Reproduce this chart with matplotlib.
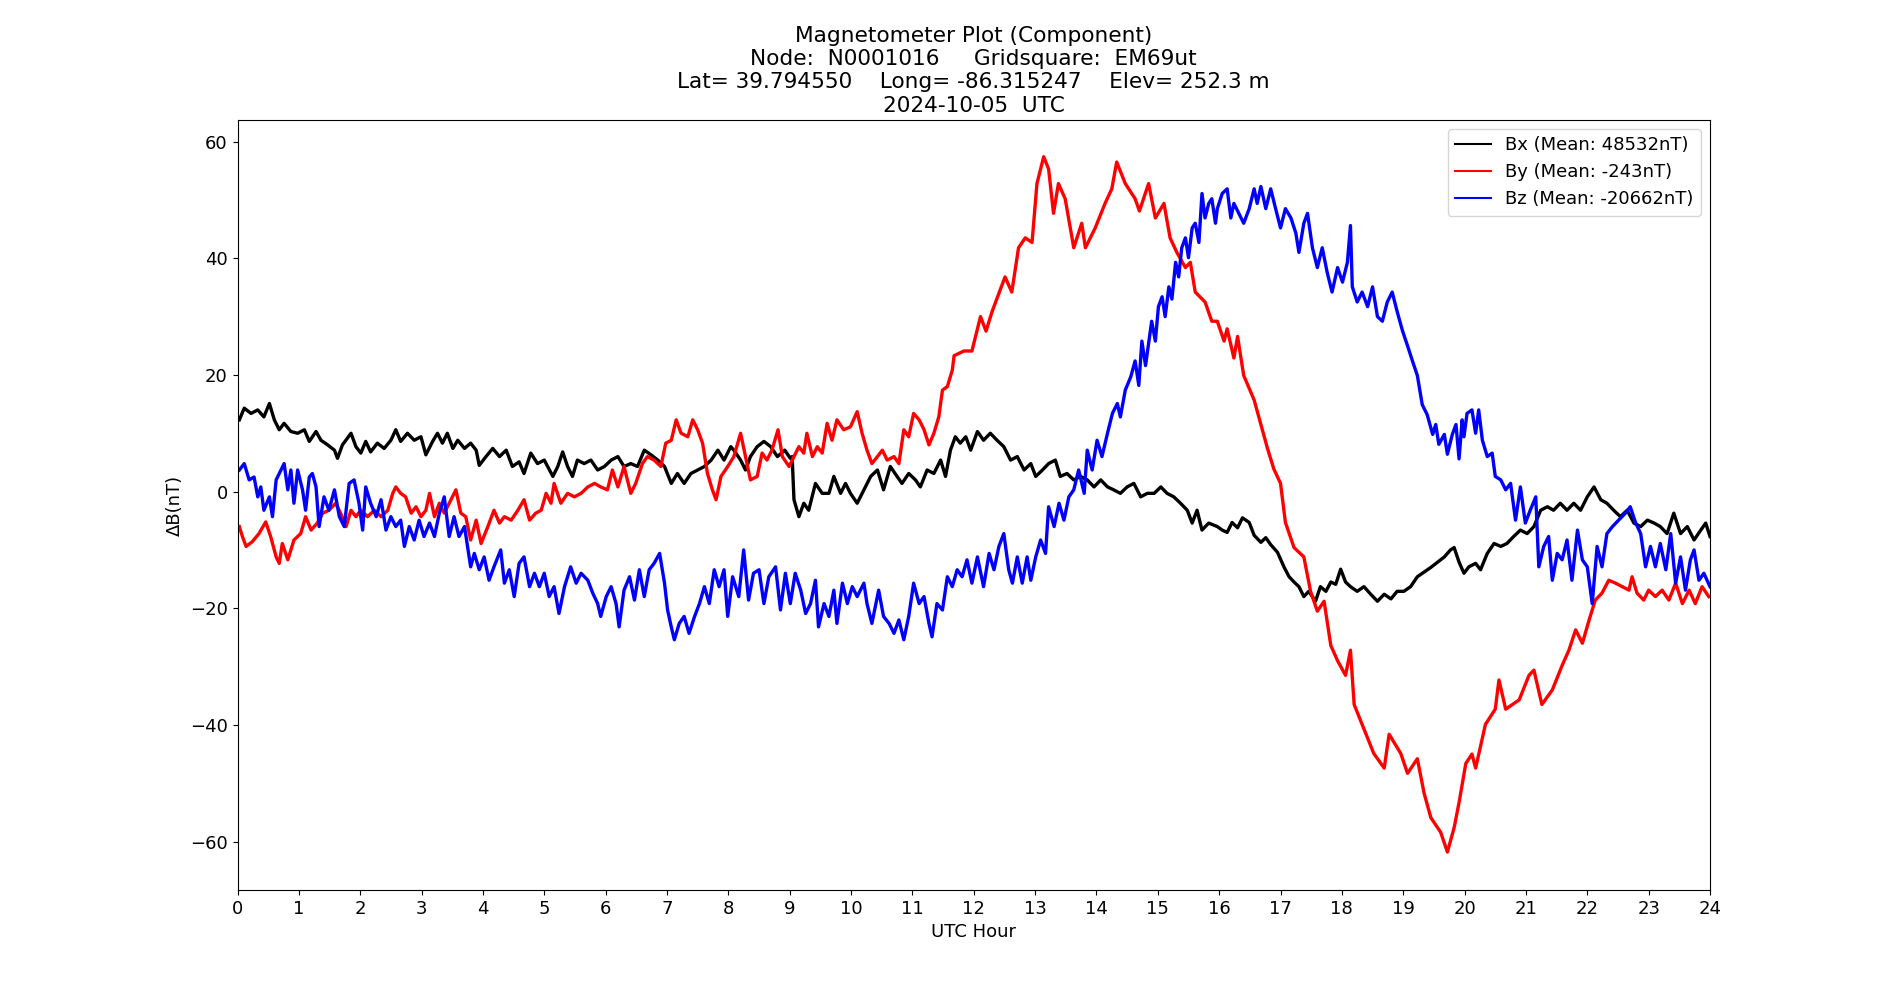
import matplotlib
matplotlib.use("Agg")
import matplotlib.pyplot as plt

plt.rcParams['font.size'] = 13

title_lines = ["Magnetometer Plot (Component)",
               "Node:  N0001016     Gridsquare:  EM69ut",
               "Lat= 39.794550    Long= -86.315247    Elev= 252.3 m",
               "2024-10-05  UTC"]
labels = ["Bx (Mean: 48532nT)", "By (Mean: -243nT)", "Bz (Mean: -20662nT)"]
colors = ["black", "red", "blue"]
xticks = list(range(0, 25))
yticks = [-60, -40, -20, 0, 20, 40, 60]

bx_hours = [0.03, 0.11, 0.22, 0.33, 0.43, 0.52, 0.6, 0.68, 0.76, 0.87, 0.98, 1.09, 1.17, 1.28, 1.36, 1.47, 1.58, 1.63, 1.71, 1.85,
            1.93, 2.01, 2.09, 2.17, 2.28, 2.39, 2.5, 2.58, 2.66, 2.77, 2.88, 2.99, 3.07, 3.18, 3.26, 3.34, 3.42, 3.51, 3.59, 3.7,
            3.8, 3.89, 3.94, 4.05, 4.16, 4.27, 4.38, 4.48, 4.59, 4.67, 4.78, 4.89, 5.0, 5.14, 5.22, 5.3, 5.38, 5.46, 5.54, 5.65,
            5.76, 5.87, 5.98, 6.09, 6.2, 6.3, 6.41, 6.52, 6.63, 6.74, 6.85, 6.96, 7.07, 7.17, 7.28, 7.39, 7.5, 7.61, 7.72, 7.83,
            7.93, 8.04, 8.09, 8.2, 8.28, 8.36, 8.47, 8.58, 8.69, 8.8, 8.92, 9.01, 9.04, 9.07, 9.12, 9.15, 9.23, 9.31, 9.42, 9.53,
            9.64, 9.72, 9.83, 9.91, 9.99, 10.1, 10.21, 10.32, 10.43, 10.53, 10.64, 10.75, 10.83, 10.94, 11.05, 11.13, 11.24, 11.35, 11.46, 11.54,
            11.62, 11.7, 11.78, 11.87, 11.95, 12.06, 12.16, 12.27, 12.38, 12.49, 12.6, 12.71, 12.82, 12.93, 13.01, 13.12, 13.22, 13.33, 13.41, 13.52,
            13.63, 13.74, 13.85, 13.96, 14.07, 14.18, 14.28, 14.39, 14.5, 14.61, 14.72, 14.83, 14.94, 15.05, 15.15, 15.26, 15.37, 15.48, 15.56, 15.64,
            15.72, 15.83, 15.97, 16.05,
            16.13, 16.21, 16.3, 16.38, 16.49, 16.57, 16.68, 16.76, 16.84, 16.95, 17.06, 17.14, 17.22, 17.3, 17.38, 17.46, 17.57, 17.65, 17.74, 17.82,
            17.9, 17.98, 18.06, 18.14, 18.25, 18.36, 18.47, 18.58, 18.69, 18.8, 18.9, 19.01, 19.12, 19.23, 19.34, 19.45, 19.56, 19.67, 19.77, 19.83,
            19.91,
            19.99, 20.07, 20.18, 20.26, 20.37, 20.48, 20.59, 20.69, 20.8, 20.91, 21.02, 21.13,
            21.24, 21.35, 21.45, 21.56, 21.67, 21.78, 21.89, 22.0, 22.11, 22.22, 22.32, 22.43, 22.54, 22.65, 22.76, 22.87, 22.98, 23.09, 23.19, 23.3,
            23.41, 23.52, 23.63, 23.74, 23.85, 23.93, 24.0]
bx_vals = [12.3, 14.3, 13.4, 14.0, 12.8, 15.1, 12.3, 10.6, 11.7, 10.3, 10.0, 10.6, 8.6, 10.3, 8.8, 8.0, 7.1, 5.7, 8.0, 10.0,
           7.7, 6.6, 8.6, 6.8, 8.3, 7.4, 8.8, 10.6, 8.6, 10.0, 8.8, 9.4, 6.3, 8.6, 10.0, 8.3, 10.0, 7.4, 8.8, 7.4,
           8.3, 7.1, 4.5, 6.0, 7.4, 6.0, 7.1, 4.3, 5.1, 3.1, 6.6, 4.8, 5.4, 2.6, 4.3, 6.8, 4.3, 2.6, 5.4, 4.8,
           5.4, 3.7, 4.3, 5.4, 6.0, 4.3, 4.8, 4.3, 7.1, 6.3, 5.4, 4.3, 1.4, 3.1, 1.4, 3.1, 3.7, 4.3, 5.4, 7.1,
           5.4, 7.7, 7.1, 5.4, 3.7, 6.0, 7.7, 8.6, 7.7, 6.0, 7.1, 5.7, 6.0, -1.4, -3.2, -4.3, -2.0, -3.2, 1.4, -0.3,
           -0.3, 2.6, -0.3, 1.4, -0.3, -2.0, 0.3, 2.6, 3.7, 0.3, 4.3, 2.6, 1.4, 3.1, 2.0, 0.8, 3.7, 3.1, 5.4, 2.6,
           7.1, 9.4, 8.3, 9.4, 7.1, 10.3, 8.8, 10.0, 8.8, 7.7, 5.4, 6.0, 3.7, 4.8, 2.6, 3.7, 4.8, 5.4, 2.6, 3.1,
           2.0, 2.6, 2.0, 0.8, 2.0, 0.8, 0.3, -0.3, 0.8, 1.4, -0.9, -0.3, -0.3, 0.8, -0.3, -0.9, -2.0, -3.2, -5.4, -3.2,
           -6.6, -5.4, -6.0, -6.6,
           -7.0, -5.3, -6.2, -4.5, -5.3, -7.5, -8.7, -7.9, -9.1, -10.4, -13.0, -14.6, -15.5, -16.3, -18.0, -17.1, -18.8, -16.3, -17.1, -15.5,
           -15.9, -13.3, -15.5, -16.3, -17.1, -16.3, -17.6, -18.8, -17.6, -18.4, -17.1, -17.1, -16.3, -14.6, -13.8, -13.0, -12.1, -11.2, -10.0, -9.6,
           -12.1,
           -14.0, -12.9, -12.3, -13.4, -10.6, -8.9, -9.4, -8.9, -7.7, -6.6, -7.2, -6.0,
           -3.2, -2.6, -3.2, -2.0, -3.2, -2.0, -3.2, -0.9, 0.8, -1.4, -2.0, -3.2, -4.3, -3.2, -5.4, -6.0, -4.9, -5.4, -6.0, -7.2,
           -3.7, -7.2, -6.0, -8.3, -6.6, -5.4, -7.7]

by_hours = [0.03, 0.08, 0.14, 0.24, 0.35, 0.46, 0.54, 0.63, 0.68, 0.73, 0.82, 0.92, 1.03, 1.11, 1.2, 1.3, 1.39, 1.49, 1.6, 1.68,
            1.77, 1.85, 1.93, 2.01, 2.12, 2.23, 2.34, 2.45, 2.53, 2.58, 2.66, 2.74, 2.83, 2.91, 2.99, 3.07, 3.13, 3.21, 3.29, 3.37,
            3.48, 3.56, 3.64, 3.72, 3.8, 3.89, 3.97, 4.08, 4.18, 4.27, 4.35, 4.46, 4.57, 4.67, 4.76, 4.86, 4.95, 5.03, 5.11, 5.16,
            5.27, 5.38, 5.49, 5.6, 5.71, 5.82, 5.92, 6.03, 6.11, 6.2, 6.3, 6.41, 6.49, 6.6, 6.68, 6.79, 6.9, 6.98, 7.07, 7.15,
            7.23, 7.34, 7.42, 7.5, 7.58, 7.66, 7.74, 7.8, 7.88, 7.99, 8.09, 8.2, 8.28, 8.36, 8.47, 8.55, 8.63, 8.71, 8.81, 8.88,
            8.99, 9.07, 9.15, 9.23, 9.28, 9.37, 9.45, 9.53, 9.61, 9.69, 9.77, 9.88, 9.99, 10.1, 10.18, 10.26, 10.34, 10.43, 10.51, 10.59,
            10.7, 10.78, 10.86, 10.94, 11.02, 11.11, 11.19, 11.27, 11.35, 11.43, 11.49, 11.57, 11.65, 11.68, 11.84, 11.97, 12.11, 12.2, 12.3, 12.51,
            12.62, 12.73, 12.84, 12.95, 13.03, 13.14, 13.22, 13.3, 13.38, 13.49, 13.63, 13.76, 13.82, 13.98, 14.14, 14.25, 14.33, 14.47, 14.63, 14.7,
            14.85, 14.96, 15.1, 15.2, 15.31, 15.45, 15.53, 15.61, 15.77, 15.88, 15.97, 16.08, 16.13, 16.24, 16.3, 16.4, 16.57, 16.68, 16.79, 16.89,
            17.0, 17.08, 17.22, 17.38, 17.49, 17.6, 17.71, 17.82, 17.93, 18.06, 18.14, 18.2, 18.36, 18.52, 18.69, 18.77, 18.96, 19.07, 19.23, 19.34,
            19.45, 19.61, 19.72, 19.83, 19.91, 20.02, 20.12, 20.18, 20.34, 20.5, 20.56, 20.67, 20.89, 21.05, 21.13, 21.26, 21.43, 21.59, 21.7, 21.81,
            21.92, 22.03, 22.13, 22.24, 22.35, 22.46, 22.57, 22.68, 22.73, 22.81, 22.92, 23.0, 23.11, 23.22, 23.33, 23.44, 23.55, 23.66, 23.76, 23.87,
            23.98]
by_vals = [-6.0, -7.7, -9.4, -8.6, -7.2, -5.2, -7.7, -11.2, -12.3, -8.9, -11.7, -8.3, -7.2, -4.3, -6.6, -5.4, -3.7, -3.2, -2.0, -3.7,
           -6.0, -3.2, -4.3, -3.2, -4.3, -3.2, -4.3, -3.2, -0.3, 0.8, -0.3, -0.9, -3.7, -2.6, -4.3, -3.2, -0.3, -4.3, -2.0, -3.7,
           -1.4, 0.3, -3.7, -4.3, -8.3, -4.9, -8.9, -6.0, -3.2, -5.4, -4.3, -4.9, -3.2, -1.4, -4.9, -3.7, -3.2, -0.3, -2.0, 1.4,
           -2.0, -0.3, -0.9, -0.3, 0.8, 1.4, 0.8, 0.3, 3.7, 0.8, 4.3, -0.3, 1.4, 4.8, 6.0, 5.4, 4.3, 8.3, 8.8, 12.3,
           10.0, 9.4, 12.3, 10.6, 8.3, 3.1, 0.3, -1.4, 2.6, 4.3, 6.0, 10.0, 6.0, 2.0, 2.6, 6.6, 5.4, 7.1, 10.6, 6.0,
           4.3, 6.0, 7.7, 6.6, 10.0, 6.0, 7.7, 6.6, 11.7, 8.8, 12.3, 10.6, 11.1, 13.7, 10.0, 7.1, 4.8, 6.0, 7.1, 5.4,
           6.0, 4.8, 10.6, 9.4, 13.4, 12.3, 10.6, 8.0, 10.0, 12.8, 17.4, 18.0, 20.8, 23.3, 24.1, 24.1, 30.0, 27.5, 30.9, 36.8,
           34.2, 41.8, 43.5, 42.7, 52.8, 57.4, 55.3, 47.7, 52.8, 50.2, 41.8, 46.0, 41.8, 45.2, 49.4, 51.9, 56.5, 52.8, 50.2, 48.1,
           52.8, 46.9, 49.4, 43.5, 41.0, 38.4, 39.3, 34.2, 32.5, 29.2, 29.2, 25.8, 27.9, 22.9, 26.6, 19.9, 15.7, 11.5, 7.3, 3.9,
           1.4, -5.3, -9.6, -11.2, -17.1, -20.5, -18.8, -26.4, -29.0, -31.5, -27.2, -36.5, -40.7, -44.9, -47.4, -41.6, -44.9, -48.3, -45.8, -51.7,
           -55.9, -58.4, -61.8, -57.6, -53.3, -46.6, -45.0, -47.4, -39.9, -37.3, -32.3, -37.3, -35.7, -31.5, -30.6, -36.5, -34.0, -29.8, -27.2, -23.7,
           -26.0, -22.0, -18.6, -17.4, -15.2, -15.7, -16.3, -16.9, -14.6, -17.4, -18.6, -16.9, -18.0, -16.9, -18.6, -15.7, -19.2, -16.9, -19.2, -16.3,
           -18.0]

bz_hours = [0.03, 0.11, 0.19, 0.27, 0.33, 0.38, 0.43, 0.52, 0.57, 0.63, 0.71, 0.76, 0.82, 0.87, 0.92, 0.98, 1.06, 1.11, 1.17, 1.22,
            1.28, 1.33, 1.41, 1.49, 1.58, 1.66, 1.74, 1.82, 1.9, 1.98, 2.04, 2.09, 2.17, 2.26, 2.34, 2.42, 2.5, 2.58, 2.66, 2.72,
            2.8, 2.88, 2.96, 3.04, 3.13, 3.21, 3.29, 3.37, 3.45, 3.53, 3.61, 3.7, 3.75, 3.8, 3.86, 3.94, 4.02, 4.1, 4.18, 4.29,
            4.35, 4.43, 4.51, 4.59, 4.67, 4.76, 4.84, 4.92, 5.0, 5.08, 5.16, 5.24, 5.33, 5.43, 5.52, 5.6, 5.71, 5.79, 5.87, 5.92,
            6.01, 6.09, 6.17, 6.22, 6.3, 6.39, 6.47, 6.55, 6.63, 6.71, 6.79, 6.88, 6.96, 7.01, 7.07, 7.12, 7.2, 7.28, 7.36, 7.45,
            7.53, 7.61, 7.69, 7.77, 7.85, 7.93, 7.99, 8.07, 8.17, 8.25, 8.33, 8.41, 8.5, 8.58, 8.66, 8.77, 8.85, 8.93, 9.01, 9.09,
            9.18, 9.26, 9.34, 9.42, 9.47, 9.56, 9.64, 9.72, 9.77, 9.86, 9.94, 10.02, 10.1, 10.21, 10.26, 10.34, 10.45, 10.53, 10.62, 10.7,
            10.78, 10.86, 10.94, 11.02, 11.11, 11.19, 11.27, 11.32, 11.4, 11.49, 11.57, 11.65, 11.73, 11.81, 11.89, 11.97, 12.06, 12.16, 12.25, 12.33,
            12.41, 12.49, 12.57, 12.63, 12.71, 12.79, 12.87, 12.93, 13.01, 13.09, 13.17, 13.22, 13.31, 13.39, 13.47, 13.55, 13.63, 13.71, 13.8, 13.85,
            13.93, 14.01, 14.09, 14.18, 14.26, 14.34, 14.39, 14.47, 14.56,
            14.63, 14.69, 14.74, 14.8, 14.9, 14.96, 15.01, 15.07, 15.12, 15.18, 15.23, 15.29, 15.34, 15.39, 15.45, 15.5, 15.56, 15.61, 15.67, 15.72,
            15.77, 15.83, 15.88, 15.94, 15.97, 16.05, 16.13, 16.19, 16.24, 16.32, 16.4, 16.49, 16.57, 16.62, 16.68, 16.76, 16.84, 16.92, 17.0, 17.08,
            17.17, 17.25, 17.3, 17.38, 17.44, 17.52, 17.6, 17.68, 17.76, 17.84, 17.93, 18.01, 18.09, 18.14, 18.17, 18.25, 18.33, 18.42, 18.5, 18.58,
            18.66, 18.74, 18.82, 18.9, 18.99, 19.07, 19.15, 19.23, 19.31, 19.39, 19.48, 19.53, 19.58, 19.67, 19.72, 19.8, 19.86, 19.91, 19.96,
            19.99, 20.04, 20.12, 20.18, 20.23, 20.29, 20.37, 20.45, 20.5, 20.59, 20.67, 20.75,
            20.83, 20.91, 20.99, 21.07, 21.16, 21.21, 21.29, 21.37, 21.43, 21.51, 21.59, 21.67, 21.75, 21.84, 21.92, 22.0, 22.08, 22.16, 22.24, 22.32,
            22.41, 22.51, 22.62, 22.7, 22.79, 22.87, 22.95, 23.03, 23.11, 23.19, 23.28, 23.36, 23.44, 23.52, 23.6, 23.68, 23.74, 23.82, 23.9, 24.0]
bz_vals = [3.7, 4.8, 2.0, 2.5, -0.9, 0.8, -3.2, -0.9, -4.3, 2.0, 3.7, 4.8, 0.3, 3.7, -2.0, 3.7, 0.3, -3.2, 2.5, 3.1,
           0.8, -6.0, -0.9, -3.2, 0.3, -4.3, -6.0, 1.4, 2.0, -2.0, -6.6, 0.8, -2.0, -4.3, -1.4, -6.6, -4.3, -6.0, -4.9, -9.4,
           -6.0, -8.3, -4.9, -7.7, -5.4, -7.7, -3.7, -0.9, -7.7, -4.3, -7.7, -6.0, -9.4, -12.9, -10.6, -13.4, -11.2, -15.2, -12.9, -10.0,
           -15.7, -13.4, -18.0, -12.3, -11.2, -16.3, -14.0, -16.3, -14.0, -18.0, -16.3, -20.9, -16.3, -12.9, -15.7, -14.0, -15.2, -17.4, -19.2, -21.4,
           -18.0, -16.3, -19.2, -23.2, -16.9, -14.6, -18.6, -13.4, -18.0, -13.4, -12.3, -10.6, -15.7, -20.3, -23.2, -25.4, -22.6, -21.4, -24.3, -21.4,
           -19.2, -16.3, -19.2, -13.4, -16.3, -13.4, -21.4, -14.6, -18.0, -10.0, -18.6, -14.0, -13.4, -19.2, -14.6, -12.9, -20.3, -14.0, -19.2, -14.0,
           -16.9, -20.9, -19.2, -15.2, -23.2, -19.2, -21.4, -16.9, -22.6, -15.7, -19.2, -16.3, -18.0, -15.7, -19.2, -22.6, -16.9, -21.4, -22.6, -24.3,
           -22.0, -25.4, -21.4, -15.7, -19.2, -18.0, -22.6, -24.9, -19.2, -20.3, -14.6, -16.3, -13.4, -14.6, -11.7, -15.7, -11.2, -16.3, -10.6, -13.4,
           -9.4, -7.2, -13.4, -15.7, -11.2, -15.7, -11.2, -15.2, -11.2, -8.3, -10.6, -2.6, -6.0, -2.0, -4.9, -0.9, 0.3, 3.7, -0.3, 7.1,
           3.7, 8.8, 6.0, 10.0, 13.4, 15.1, 12.8, 17.4, 19.7,
           22.4, 18.2, 25.8, 21.6, 29.2, 25.8, 31.7, 33.4, 30.0, 35.1, 33.0, 39.3, 36.8, 41.8, 43.5, 40.1, 45.2, 46.0, 42.7, 51.1,
           46.9, 49.4, 50.2, 46.0, 48.5, 51.1, 51.9, 46.9, 49.4, 47.7, 46.0, 48.5, 51.9, 49.4, 52.3, 48.5, 51.9, 48.5, 45.2, 48.5,
           46.9, 44.3, 41.0, 46.0, 47.7, 41.8, 38.4, 41.8, 37.6, 34.2, 38.4, 35.9, 39.3, 45.6, 35.1, 32.5, 34.2, 31.7, 35.1, 30.0,
           29.2, 32.5, 34.2, 30.9, 27.5, 25.0, 22.4, 19.9, 14.9, 13.2, 9.8, 11.5, 8.1, 9.8, 6.4, 9.8, 11.5, 5.6, 12.3,
           9.4, 13.4, 14.0, 10.0, 14.0, 8.8, 6.0, 6.6, 2.6, 2.0, 0.3, 1.4,
           -4.9, 0.8, -5.4, -3.2, -0.9, -12.9, -9.4, -7.7, -15.2, -10.6, -11.7, -8.3, -15.2, -6.6, -11.7, -12.9, -19.2, -9.4, -12.9, -7.2,
           -6.0, -4.9, -3.7, -2.6, -5.4, -7.2, -12.9, -9.4, -12.9, -8.9, -13.4, -7.2, -15.7, -11.2, -16.9, -11.7, -10.0, -15.2, -14.0, -16.3]

assert len(bx_hours) == len(bx_vals)
assert len(by_hours) == len(by_vals)
assert len(bz_hours) == len(bz_vals)

fig, ax = plt.subplots(figsize=(19, 10), dpi=100)
ax.plot(bx_hours, bx_vals, color=colors[0], lw=2.4, label=labels[0])
ax.plot(by_hours, by_vals, color=colors[1], lw=2.4, label=labels[1])
ax.plot(bz_hours, bz_vals, color=colors[2], lw=2.4, label=labels[2])

ax.set_xlim(0, 24)
ax.set_ylim(-68.3, 63.7)
ax.set_xticks(xticks)
ax.set_yticks(yticks)
ax.set_xlabel("UTC Hour")
ax.set_ylabel("ΔB(nT)")
ax.set_title("\n".join(title_lines), fontsize=15.6)
leg = ax.legend(loc="upper right")
for line in leg.get_lines():
    line.set_linewidth(1.5)

fig.savefig("out.png", dpi=100)
